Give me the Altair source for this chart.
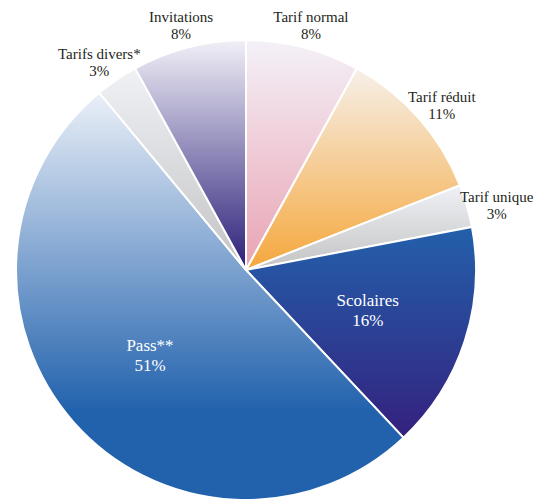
import altair as alt
import pandas as pd

categories = ["Tarif normal", "Tarif réduit", "Tarif unique", "Scolaires", "Pass**", "Tarifs divers*", "Invitations"]
values = [8, 11, 3, 16, 51, 3, 8]
order = list(range(len(categories)))

df = pd.DataFrame({"category": categories, "value": values, "order": order})

gradients = {
    "Tarif normal": [("#f4f1f8", 0), ("#e9a3b3", 1)],
    "Tarif réduit": [("#f6f0e9", 0), ("#f5a73c", 1)],
    "Tarif unique": [("#eff1f5", 0), ("#c3c3c4", 1)],
    "Scolaires": [("#2360ab", 0), ("#34217e", 1)],
    "Pass**": [("#ebf0f8", 0), ("#2262ad", 0.78), ("#2262ad", 1)],
    "Tarifs divers*": [("#eff1f5", 0), ("#c3c3c4", 1)],
    "Invitations": [("#f1f0f7", 0), ("#2a1e78", 1)],
}

CX, CY, R = 238, 262, 230
theta_scale = alt.Scale(domain=[0, 100], range=[0, 6.283185307])

base = alt.Chart(df).transform_window(
    cum="sum(value)", frame=[None, 0], sort=[alt.SortField("order")]
).transform_calculate(
    start="datum.cum - datum.value",
    mid="datum.cum - datum.value / 2",
    label="datum.category + '\\n' + datum.value + '%'",
)

layers = []
for cat in categories:
    grad = alt.Gradient(
        gradient="linear",
        stops=[alt.GradientStop(color=c, offset=o) for c, o in gradients[cat]],
        x1=0, x2=0, y1=0, y2=1,
    )
    layers.append(
        base.transform_filter(alt.datum.category == cat)
        .mark_arc(outerRadius=R, fill=grad, stroke="white", strokeWidth=2)
        .encode(
            theta=alt.Theta("start:Q", scale=theta_scale),
            theta2="cum:Q",
            x=alt.value(CX), y=alt.value(CY),
        )
    )

inner = ["Scolaires", "Pass**"]
outer_labels = (
    base.transform_filter(~alt.FieldOneOfPredicate(field="category", oneOf=inner))
    .mark_text(radius=261, font="Liberation Serif", fontSize=15, lineBreak="\n",
               lineHeight=17, color="#231f20", baseline="middle", align="center")
    .encode(theta=alt.Theta("mid:Q", scale=theta_scale), text="label:N",
            x=alt.value(CX), y=alt.value(CY))
)
inner_labels = (
    base.transform_filter(alt.FieldOneOfPredicate(field="category", oneOf=inner))
    .mark_text(radius=128, dy=-9, font="Liberation Serif", fontSize=17, lineBreak="\n",
               lineHeight=20, color="white", baseline="middle", align="center")
    .encode(theta=alt.Theta("mid:Q", scale=theta_scale), text="label:N",
            x=alt.value(CX), y=alt.value(CY))
)

chart = alt.layer(*layers, outer_labels, inner_labels).properties(
    width=537, height=492, padding=0, autosize="none"
).configure_view(stroke=None)

chart.save("out.html", embed_options={"renderer": "svg", "actions": False})
